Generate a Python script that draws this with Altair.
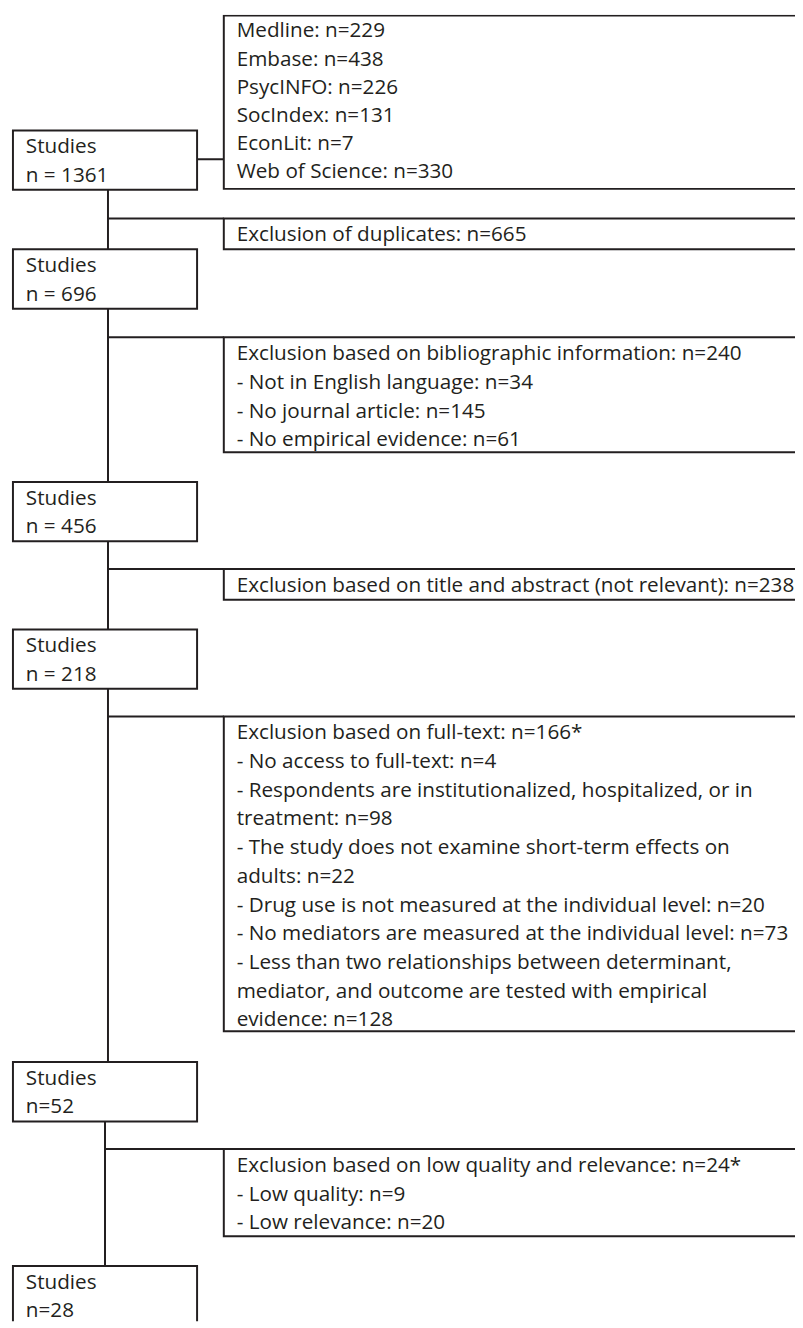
import altair as alt
import pandas as pd

# ---------------- content ----------------
stage_title = "Studies"
stage_counts = ["n = 1361", "n = 696", "n = 456", "n = 218", "n=52", "n=28"]

sources = [
    "Medline: n=229",
    "Embase: n=438",
    "PsycINFO: n=226",
    "SocIndex: n=131",
    "EconLit: n=7",
    "Web of Science: n=330",
]
duplicates = ["Exclusion of duplicates: n=665"]
bibliographic = [
    "Exclusion based on bibliographic information: n=240",
    "- Not in English language: n=34",
    "- No journal article: n=145",
    "- No empirical evidence: n=61",
]
title_abstract = ["Exclusion based on title and abstract (not relevant): n=238"]
full_text = [
    "Exclusion based on full-text: n=166*",
    "- No access to full-text: n=4",
    "- Respondents are institutionalized, hospitalized, or in",
    "treatment: n=98",
    "- The study does not examine short-term effects on",
    "adults: n=22",
    "- Drug use is not measured at the individual level: n=20",
    "- No mediators are measured at the individual level: n=73",
    "- Less than two relationships between determinant,",
    "mediator, and outcome are tested with empirical",
    "evidence: n=128",
]
quality = [
    "Exclusion based on low quality and relevance: n=24*",
    "- Low quality: n=9",
    "- Low relevance: n=20",
]
side_boxes = [sources, duplicates, bibliographic, title_abstract, full_text, quality]

# ---------------- layout (reference pixel space) ----------------
W, H = 803, 1328
MAIN_X = (13, 199)
SIDE_X = (226, 812)
main_tops = [125, 245, 480, 629, 1066, 1272]
MAIN_H = 60
side_tops = [9, 214, 334, 568, 717, 1154]
side_bottoms = [184, 245, 450, 599, 1035, 1242]
trunk_x = [109, 109, 109, 109, 106]
LINE_STEP = 29
FIRST_OFF = 17
MAIN_TEXT_X = 26
SIDE_TEXT_X = 239
INK = "#231f20"
FONT = "Open Sans"
FSIZE = 20.9

boxes, texts, rules = [], [], []
for i, cnt in enumerate(stage_counts):
    top = main_tops[i]
    boxes.append(dict(x=MAIN_X[0], x2=MAIN_X[1], y=top, y2=top + MAIN_H))
    texts.append(dict(x=MAIN_TEXT_X, y=top + FIRST_OFF, t=stage_title))
    texts.append(dict(x=MAIN_TEXT_X, y=top + FIRST_OFF + LINE_STEP, t=cnt))

src_step = 28.5
for i, lines in enumerate(side_boxes):
    top = side_tops[i]
    boxes.append(dict(x=SIDE_X[0], x2=SIDE_X[1], y=top, y2=side_bottoms[i]))
    step = src_step if i == 0 else LINE_STEP
    off = 16 if i == 0 else FIRST_OFF
    for j, ln in enumerate(lines):
        texts.append(dict(x=SIDE_TEXT_X, y=top + off + j * step, t=ln))

# connector from first main box to sources box
rules.append(dict(x=MAIN_X[1], x2=SIDE_X[0], y=154, y2=154))
for i in range(len(stage_counts) - 1):
    tx = trunk_x[i]
    rules.append(dict(x=tx, x2=tx, y=main_tops[i] + MAIN_H, y2=main_tops[i + 1]))
    by = side_tops[i + 1]
    rules.append(dict(x=tx, x2=SIDE_X[0], y=by, y2=by))

xs = alt.Scale(domain=[8, W], range=[0, W - 8])
ys = alt.Scale(domain=[8, H], range=[0, H - 8])

box_df = pd.DataFrame(boxes)
text_df = pd.DataFrame(texts)
rule_df = pd.DataFrame(rules)

rule_layer = alt.Chart(rule_df).mark_rule(color=INK, strokeWidth=2, clip=True).encode(
    x=alt.X("x:Q", scale=xs, axis=None),
    x2="x2:Q",
    y=alt.Y("y:Q", scale=ys, axis=None),
    y2="y2:Q",
)
box_layer = alt.Chart(box_df).mark_rect(
    fill="white", stroke=INK, strokeWidth=2, clip=True
).encode(
    x=alt.X("x:Q", scale=xs, axis=None),
    x2="x2:Q",
    y=alt.Y("y:Q", scale=ys, axis=None),
    y2="y2:Q",
)
text_layer = alt.Chart(text_df).mark_text(
    align="left", baseline="middle", font=FONT, fontSize=FSIZE, color=INK, clip=True
).encode(
    x=alt.X("x:Q", scale=xs, axis=None),
    y=alt.Y("y:Q", scale=ys, axis=None),
    text="t:N",
)

chart = (
    alt.layer(rule_layer, box_layer, text_layer)
    .properties(width=W - 8, height=H - 8, padding=0, background="white")
    .configure_view(stroke=None)
)

chart.save("out.html", embed_options={"renderer": "svg", "actions": False})
